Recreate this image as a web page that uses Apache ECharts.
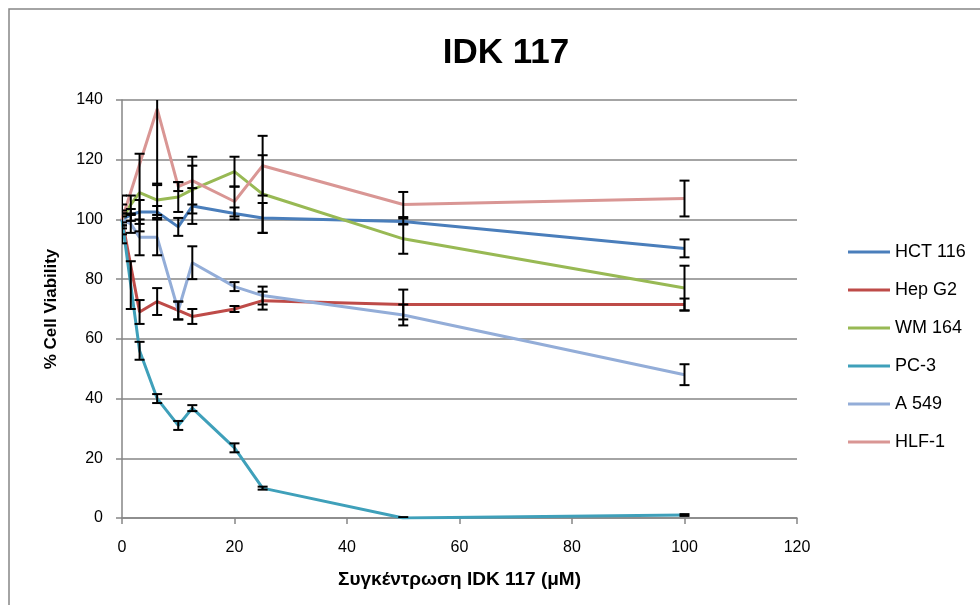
<!DOCTYPE html>
<html>
<head>
<meta charset="utf-8">
<script src="https://cdn.jsdelivr.net/npm/echarts@6/dist/echarts.min.js"></script>
<style>
  html, body { margin: 0; padding: 0; background: #fff; }
  #chart { width: 980px; height: 605px; }
</style>
</head>
<body>
<div id="chart"></div>
<script>
// concentrations (μM)
const conc = [0, 1.56, 3.125, 6.25, 10, 12.5, 20, 25, 50, 100];

const names = ['HCT 116', 'Hep G2', 'WM 164', 'PC-3', 'A 549', 'HLF-1'];
const colors = ['#4A7EBB', '#BE4B48', '#98B954', '#3FA0BA', '#93ADD8', '#D99694'];

// % viability per cell line
const hct116 = [100, 101.5, 102.5, 102.5, 97.5, 104.5, 102, 100.5, 99.3, 90.3];
const hepg2  = [100, null, 69, 72.5, 69.5, 67.5, 70, 72.8, 71.5, 71.5];
const wm164  = [100, 105, 109, 106.5, 107.5, 110, 116, 108.5, 93.5, 77];
const pc3    = [100, 78, 56, 40, 31, 36.8, 23.5, 10, 0, 1];
const a549   = [100, 98.5, 94, 94, 69.5, 85.5, 77.5, 74.5, 68, 48];
const hlf1   = [100, null, null, 137, 111, 113, 106, 118, 105, 107];

// error (±)
const hct116Err = [3, 2, 4, 2, 3, 6, 2, 5, 1, 3];
const hepg2Err  = [2, null, 4, 4.5, 3, 2.5, 1, 3, 5, 2];
const wm164Err  = [5, 3, 13, 5, 5, 8, 5, 13, 5, 7.5];
const pc3Err    = [1, 8, 3, 1.5, 1.5, 1, 1.5, 0.5, 0.3, 0.3];
const a549Err   = [2, 3, 6, 6, 3, 5.5, 1.5, 3, 3.5, 3.5];
const hlf1Err   = [8, null, null, 25, 1.5, 8, 5, 10, 4.2, 6];

const values = [hct116, hepg2, wm164, pc3, a549, hlf1];
const errors = [hct116Err, hepg2Err, wm164Err, pc3Err, a549Err, hlf1Err];

const gridColor = '#868686';
const narrow = '"Liberation Sans Narrow", "Liberation Sans", Arial, sans-serif';

const chart = echarts.init(document.getElementById('chart'));

const lineSeries = names.map((n, i) => ({
    name: n,
    type: 'line',
    data: conc.map((x, j) => [x, values[i][j]]).filter(d => d[1] !== null),
    showSymbol: false,
    symbol: 'none',
    lineStyle: { color: colors[i], width: 3 },
    itemStyle: { color: colors[i] },
    z: 2
}));

const errSeries = names.map((n, i) => ({
    name: 'err' + i,
    type: 'custom',
    clip: true,
    z: 3,
    silent: true,
    data: conc.map((x, j) => values[i][j] === null ? null :
        [x, values[i][j] - errors[i][j], values[i][j] + errors[i][j]]).filter(d => d),
    renderItem: function (params, api) {
        const top = api.coord([api.value(0), api.value(2)]);
        const bot = api.coord([api.value(0), api.value(1)]);
        const w = 5;
        const st = { stroke: '#000', lineWidth: 2 };
        return {
            type: 'group',
            children: [
                { type: 'line', shape: { x1: top[0], y1: top[1], x2: bot[0], y2: bot[1] }, style: st },
                { type: 'line', shape: { x1: top[0] - w, y1: top[1], x2: top[0] + w, y2: top[1] }, style: st },
                { type: 'line', shape: { x1: bot[0] - w, y1: bot[1], x2: bot[0] + w, y2: bot[1] }, style: st }
            ]
        };
    }
}));

const option = {
    animation: false,
    backgroundColor: '#fff',
    title: {
        text: 'IDK 117',
        left: 501,
        textAlign: 'center',
        top: 31,
        textStyle: { fontFamily: narrow, fontSize: 35, fontWeight: 'bold', color: '#000' }
    },
    graphic: [{
        type: 'rect',
        shape: { x: 9, y: 9, width: 990, height: 620 },
        style: { fill: 'none', stroke: '#868686', lineWidth: 1.5 },
        silent: true
    }],
    legend: {
        data: names,
        orient: 'vertical',
        left: 843,
        top: 237,
        itemWidth: 42,
        itemHeight: 3,
        itemGap: 18,
        icon: 'rect',
        textStyle: { fontFamily: '"Liberation Sans", Arial, sans-serif', fontSize: 18, color: '#000', lineHeight: 20 }
    },
    grid: { left: 122, right: 183, top: 100, bottom: 87, containLabel: false },
    xAxis: {
        type: 'value',
        min: 0, max: 120, interval: 20,
        name: 'Συγκέντρωση IDK 117 (μM)',
        nameLocation: 'middle',
        nameGap: 52,
        nameTextStyle: { fontFamily: narrow, fontSize: 19, fontWeight: 'bold', color: '#000' },
        axisLine: { lineStyle: { color: gridColor, width: 1.5 } },
        axisTick: { show: true, length: 6, lineStyle: { color: gridColor, width: 1.5 } },
        axisLabel: { fontFamily: narrow, fontSize: 16, color: '#000', margin: 22 },
        splitLine: { show: false }
    },
    yAxis: {
        type: 'value',
        min: 0, max: 140, interval: 20,
        name: '% Cell Viability',
        nameLocation: 'middle',
        nameGap: 62,
        nameTextStyle: { fontFamily: narrow, fontSize: 17, fontWeight: 'bold', color: '#000' },
        axisLine: { show: true, lineStyle: { color: gridColor, width: 1.5 } },
        axisTick: { show: true, length: 6, lineStyle: { color: gridColor, width: 1.5 } },
        axisLabel: { fontFamily: narrow, fontSize: 16, color: '#000', margin: 19 },
        splitLine: { lineStyle: { color: gridColor, width: 1.5 } }
    },
    series: lineSeries.concat(errSeries)
};

chart.setOption(option);
</script>
</body>
</html>
